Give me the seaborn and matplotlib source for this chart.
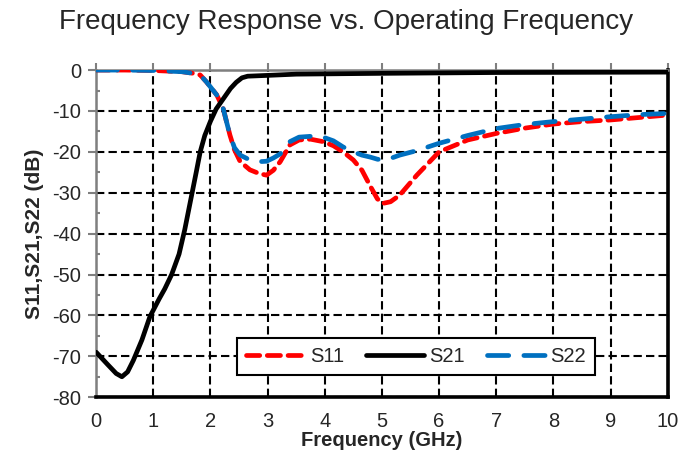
import matplotlib
matplotlib.use("Agg")
import matplotlib.pyplot as plt
import pandas as pd
import seaborn as sns

# S21 trace (GHz, dB)
freq_s21 = [0, 0.2, 0.35, 0.45, 0.55, 0.65, 0.8, 0.94, 1.1, 1.2, 1.32, 1.45, 1.55, 1.65,
            1.75, 1.82, 1.9, 2.0, 2.1, 2.23, 2.35, 2.45, 2.55, 2.65, 3.0, 3.5, 5, 7, 10]
s21 = [-69, -72, -74.2, -75, -73.8, -71, -66, -60.3, -56, -53.5, -50, -45, -39, -32,
       -25, -20, -16, -12.5, -9.5, -6.9, -4.5, -3, -1.9, -1.5, -1.3, -1.0, -0.8, -0.6, -0.5]

# S11 / S22 traces share one frequency grid
freq = [0, 0.5, 1.0, 1.5, 1.7, 1.82, 1.93, 2.02, 2.11, 2.22, 2.34, 2.42, 2.52, 2.69,
        2.85, 2.98, 3.1, 3.22, 3.39, 3.55, 3.75, 3.97, 4.15, 4.32, 4.5, 4.65, 4.8, 4.92,
        5.02, 5.15, 5.31, 5.61, 6.0, 6.5, 7.0, 7.5, 8.0, 8.5, 9.0, 9.5, 10]
s11 = [0, 0, -0.1, -0.4, -0.8, -1.2, -2.9, -4.5, -6.1, -9.3, -15.9, -19.5, -22.4, -24.4,
       -25.3, -25.7, -24.5, -22.4, -18.3, -17.1, -16.9, -17.5, -18.5, -20, -22, -24.5,
       -28.5, -31.5, -32.6, -32.2, -30.6, -25.7, -20, -17.1, -15.5, -14.2, -13.2, -12.6,
       -12.2, -11.6, -11]
s22 = [0, 0, -0.1, -0.4, -0.8, -1.2, -2.9, -4.5, -6.1, -9.3, -15.9, -19, -20.8, -22,
       -22.4, -22.3, -21.5, -20.5, -17.5, -16.4, -16.2, -16.4, -17.3, -18.8, -20, -20.8,
       -21.3, -21.8, -22, -21.6, -20.8, -19.7, -17.9, -16, -14.3, -13.3, -12.6, -12,
       -11.4, -10.9, -10.6]

x_ticks = list(range(0, 11))
y_ticks = list(range(-80, 1, 10))

sns.set_style("white")
plt.rcParams["font.family"] = ["Liberation Sans", "DejaVu Sans"]
plt.rcParams["axes.unicode_minus"] = False

fig = plt.figure(figsize=(6.97, 4.55), dpi=100)
ax = fig.add_axes([0.138, 0.127, 0.820, 0.719])

df11 = pd.DataFrame({"f": freq, "v": s11})
df22 = pd.DataFrame({"f": freq, "v": s22})
df21 = pd.DataFrame({"f": freq_s21, "v": s21})

sns.lineplot(data=df11, x="f", y="v", color="#FF0000", linewidth=3.4, ax=ax,
             label="S11", zorder=4)
sns.lineplot(data=df21, x="f", y="v", color="black", linewidth=3.4, ax=ax,
             label="S21", zorder=5)
sns.lineplot(data=df22, x="f", y="v", color="#0070C0", linewidth=3.4, ax=ax,
             label="S22", zorder=4)
l11, l21, l22 = ax.lines[0], ax.lines[1], ax.lines[2]
l11.set_dashes((2.8, 1.6))
l11.set_dash_capstyle("round")
l22.set_dashes((4.5, 3.2))
l22.set_dash_capstyle("round")
l21.set_solid_capstyle("round")
l21.set_solid_joinstyle("round")

ax.set_xlim(0, 10)
ax.set_ylim(-80, 0)
ax.set_xticks(x_ticks)
ax.set_yticks(y_ticks)
ax.set_yticks(list(range(-75, 0, 10)), minor=True)

ax.grid(True, which="major", color="black", linestyle=(0, (4, 2)), linewidth=1.5)
ax.set_axisbelow(True)

for side in ["bottom", "right"]:
    ax.spines[side].set_color("black")
    ax.spines[side].set_linewidth(2.6)
for side in ["left", "top"]:
    ax.spines[side].set_color("#7f7f7f")
    ax.spines[side].set_linewidth(1.8)

ax.tick_params(axis="y", which="major", direction="out", length=6, width=1.5,
               color="#7f7f7f", labelsize=14.5, pad=5, left=True)
ax.tick_params(axis="y", which="minor", direction="in", length=3, width=1.5,
               color="#7f7f7f", left=True)
ax.tick_params(axis="x", which="major", bottom=False, top=True, direction="out",
               length=5, width=1.5, color="#7f7f7f", labelsize=14.5, pad=6)

ax.set_xlabel("Frequency (GHz)", fontsize=14.5, fontweight="bold", labelpad=0)
ax.set_ylabel("S11,S21,S22 (dB)", fontsize=15, fontweight="bold", labelpad=6)

leg = ax.legend(ncol=3, loc="center", bbox_to_anchor=(0.56, 0.125), fontsize=14.5,
                frameon=True, fancybox=False, edgecolor="black", framealpha=1,
                handlelength=2.9, handletextpad=0.25, columnspacing=1.1,
                borderpad=0.45)
leg.get_frame().set_linewidth(1.5)

fig.text(0.496, 1 - 22 / 455, "Frequency Response vs. Operating Frequency",
         ha="center", va="center", fontsize=20)

fig.savefig("out.png", dpi=100)
